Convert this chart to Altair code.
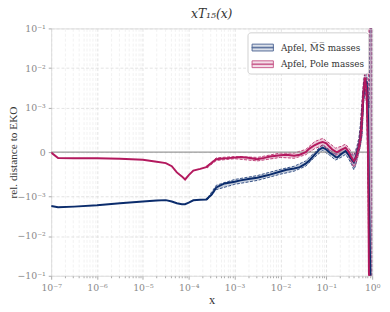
import altair as alt
import pandas as pd

# ---------------- data ----------------
series_names = ["Apfel, M\u0305S\u0305 masses", "Apfel, Pole masses"]
series_colors = ["#0b2c6c", "#b3195e"]
legend_fills = ["#ced5e2", "#f0d1df"]

# log10(x) positions of the central lines
log_x = [-7.0, -6.85, -6.5, -6.0, -5.5, -5.0, -4.7, -4.5, -4.37, -4.26, -4.15, -4.08,
         -4.0, -3.9, -3.75, -3.62, -3.5, -3.4, -3.22, -3.0, -2.87, -2.7, -2.51, -2.35,
         -2.23, -2.0, -1.87, -1.7, -1.58, -1.45, -1.37, -1.25, -1.15, -1.08, -1.0,
         -0.93, -0.87, -0.8, -0.76, -0.68, -0.58, -0.51, -0.45, -0.40, -0.36, -0.33,
         -0.29, -0.26, -0.22, -0.19, -0.155, -0.12, -0.09, -0.07, -0.04]

msbar = [-1.75e-3, -1.89e-3, -1.82e-3, -1.68e-3, -1.5e-3, -1.35e-3, -1.28e-3, -1.25e-3,
         -1.35e-3, -1.5e-3, -1.58e-3, -1.58e-3, -1.45e-3, -1.26e-3, -1.22e-3, -1.2e-3,
         -9.6e-4, -8.0e-4, -7.1e-4, -6.7e-4, -6.4e-4, -6.1e-4, -5.8e-4, -5.4e-4, -5.1e-4,
         -4.4e-4, -4.0e-4, -3.7e-4, -3.4e-4, -2.6e-4, -1.9e-4, -5e-5, 6e-5, 1.0e-4, 6e-5,
         -1e-5, -5e-5, -1.1e-4, -1.2e-4, -5e-5, 2.5e-5, -7e-5, -1.6e-4, -2.3e-4, -1.2e-4,
         0.0, 1.5e-4, 3.2e-4, 8e-4, 2.2e-3, 5.3e-3, 4.0e-3, 8e-4, -1e-3, -0.3]

pole = [-1e-5, -1.36e-4, -1.38e-4, -1.38e-4, -1.5e-4, -1.75e-4, -2.2e-4, -2.5e-4,
        -3.2e-4, -4.6e-4, -5.5e-4, -6.2e-4, -5.2e-4, -4.2e-4, -3.8e-4, -3.4e-4, -2.4e-4,
        -1.6e-4, -1.42e-4, -1.25e-4, -1.13e-4, -1.3e-4, -1.6e-4, -1.3e-4, -1.0e-4, -7e-5,
        -6e-5, -8e-5, -6e-5, 0.0, 8e-5, 1.6e-4, 2.1e-4, 2.3e-4, 2.0e-4, 1.2e-4, 6e-5,
        1e-5, 0.0, 5e-5, 1.0e-4, 0.0, -1.2e-4, -2.0e-4, -1.4e-4, -5e-5, 1.2e-4, 2.9e-4,
        8e-4, 2.5e-3, 5.8e-3, 2.5e-3, 0.0, -0.3, -0.3]

# uncertainty bands
band_log_x = [-3.6, -3.4, -3.0, -2.5, -2.0, -1.7, -1.45, -1.25, -1.08, -0.93, -0.8,
              -0.68, -0.58, -0.51, -0.45, -0.40, -0.36, -0.33, -0.29, -0.26, -0.22,
              -0.19, -0.155, -0.12, -0.09, -0.07, -0.05, 0.0]
ms_lo = [-1.25e-3, -8.5e-4, -7.3e-4, -6.4e-4, -5.0e-4, -4.3e-4, -3.2e-4, -1.1e-4, 4e-5,
         -7e-5, -1.8e-4, -1.2e-4, -5e-5, -1.6e-4, -2.8e-4, -4.0e-4, -3.0e-4, -1.4e-4, 0.0,
         1.3e-4, 4e-4, 1.2e-3, 3e-3, 1.5e-3, -5e-4, -3e-3, -0.3, -0.3]
ms_hi = [-1.15e-3, -7.5e-4, -6.2e-4, -5.3e-4, -3.9e-4, -3.2e-4, -2.0e-4, 0.0, 1.7e-4,
         5e-5, -4e-5, 3e-5, 1.1e-4, 2e-5, -5e-5, -8e-5, 4e-5, 1.4e-4, 3.2e-4, 6e-4,
         1.5e-3, 4e-3, 9e-3, 7e-3, 3e-3, 1e-3, 0.3, 0.3]
pole_lo = [-3.6e-4, -1.9e-4, -1.5e-4, -2.0e-4, -1.2e-4, -1.4e-4, -6e-5, 8e-5, 1.5e-4,
           4e-5, -7e-5, -3e-5, 2e-5, -9e-5, -2.4e-4, -3.4e-4, -2.8e-4, -1.8e-4, -2e-5,
           1.2e-4, 4e-4, 1.3e-3, 3.5e-3, 1e-3, -1e-3, -0.3, -0.3, -0.3]
pole_hi = [-3.2e-4, -1.3e-4, -1.0e-4, -1.2e-4, -2e-5, -2e-5, 6e-5, 2.4e-4, 3.1e-4, 2e-4,
           9e-5, 1.3e-4, 1.8e-4, 9e-5, 0.0, -6e-5, 0.0, 8e-5, 2.6e-4, 5e-4, 1.6e-3,
           4.5e-3, 9e-3, 5e-3, 1e-3, 0.3, 0.3, 0.3]

y_tick_values = [-0.1, -0.01, -0.001, 0.0, 0.001, 0.01, 0.1]
y_tick_labels = ["\u221210\u207b\u00b9", "\u221210\u207b\u00b2", "\u221210\u207b\u00b3", "0",
                 "10\u207b\u00b3", "10\u207b\u00b2", "10\u207b\u00b9"]
x_exponents = [-7, -6, -5, -4, -3, -2, -1, 0]
x_tick_labels = ["10\u207b\u2077", "10\u207b\u2076", "10\u207b\u2075", "10\u207b\u2074",
                 "10\u207b\u00b3", "10\u207b\u00b2", "10\u207b\u00b9", "10\u2070"]

# ---------------- symlog (matplotlib-style, linthresh 1e-3) ----------------
LT = 1e-3
LS = 1.0 / (1.0 - 0.1)


def symlog(v):
    import math
    if abs(v) <= LT:
        return v / LT * LS
    return (1 if v > 0 else -1) * (LS + math.log10(abs(v) / LT))


def symlog_expr(f):
    return (f"abs(datum.{f}) <= {LT} ? datum.{f} / {LT} * {LS} : "
            f"(datum.{f} > 0 ? 1 : -1) * ({LS} + log(abs(datum.{f}) / {LT}) / LN10)")


ydom = [symlog(-0.1), symlog(0.1)]
y_tick_pos = [symlog(v) for v in y_tick_values]
mids = [(a + b) / 2 for a, b in zip(y_tick_pos[:-1], y_tick_pos[1:])]
ylab = f"'{y_tick_labels[-1]}'"
for m, lab in reversed(list(zip(mids, y_tick_labels[:-1]))):
    ylab = f"datum.value < {m} ? '{lab}' : ({ylab})"

x_major = [10.0 ** e for e in x_exponents]
x_minor = [k * 10.0 ** e for e in x_exponents[:-1] for k in range(2, 10)]
x_ticks = sorted(x_major + x_minor)
major_test = "abs(log(datum.value)/LN10 - round(log(datum.value)/LN10)) < 0.001"
arr = "[" + ",".join(f"'{t}'" for t in x_tick_labels) + "]"
xlab = f"{major_test} ? {arr}[round(log(datum.value)/LN10) - ({x_exponents[0]})] : ''"

# ---------------- tables ----------------
lines = pd.DataFrame({
    "x": [10.0 ** l for l in log_x] * 2,
    "v": msbar + pole,
    "series": [series_names[0]] * len(log_x) + [series_names[1]] * len(log_x),
})
bands = pd.DataFrame({
    "x": [10.0 ** l for l in band_log_x] * 2,
    "lo": ms_lo + pole_lo,
    "hi": ms_hi + pole_hi,
    "series": [series_names[0]] * len(band_log_x) + [series_names[1]] * len(band_log_x),
})
zero = pd.DataFrame({"v": [0.0]})

FONT = "Liberation Serif"
TFONT = "DejaVu Serif"
GRAY = "#8a8a8a"

xscale = alt.Scale(type="log", domain=[1e-7, 1])
yscale = alt.Scale(domain=ydom, nice=False, zero=False, clamp=True)
stroke_scale = alt.Scale(domain=series_names, range=series_colors)
fill_scale = alt.Scale(domain=series_names, range=legend_fills)
color_scale = alt.Scale(domain=series_names, range=series_colors)

x_axis = alt.Axis(
    values=x_ticks, labelExpr=xlab, title="x", grid=True,
    gridColor={"condition": {"test": major_test, "value": "#dcdcdc"}, "value": "#efefef"},
    gridDash=[3, 2], gridWidth=0.8,
    tickSize={"condition": {"test": major_test, "value": 3.5}, "value": 2},
    tickColor="#aaaaaa", domain=False, labelFlush=False, labelOverlap=False,
    labelFont=TFONT, labelFontSize=9.5, labelColor=GRAY, labelPadding=3,
    titleFont=FONT, titleFontSize=12.5, titleFontWeight="normal", titleColor="#333333",
    titlePadding=2)

y_axis = alt.Axis(values=y_tick_pos, labelExpr=ylab, title="rel. distance to EKO",
                  grid=True, gridColor="#dcdcdc", gridDash=[3, 2], gridWidth=0.8,
                  tickSize=3, tickColor="#aaaaaa", domain=False, labelFont=TFONT,
                  labelFontSize=9.5, labelColor=GRAY, labelPadding=3, titleFont=FONT,
                  titleFontSize=11.5, titleFontWeight="normal", titleColor="#333333",
                  titleX=-33, titleBaseline="bottom")

legend_props = dict(
    title=None, orient="top-right", offset=4, padding=4, fillColor="white",
    strokeColor="#d0d0d0", cornerRadius=3, labelFont=TFONT, labelFontSize=9,
    labelColor="#333333", symbolType="M-1,-0.32H1V0.32H-1Z M-1,-0.03H1V0.03H-1Z",
    symbolSize=470, symbolStrokeWidth=1, rowPadding=-7, labelOffset=7)

# legend-only layer (no rows drawn), first so that it defines axes and legend
leg = alt.Chart(lines).transform_filter("false").mark_point(
    filled=True, strokeWidth=1).encode(
    x=alt.X("x:Q", scale=xscale, axis=x_axis),
    y=alt.Y("v:Q", scale=yscale, axis=y_axis),
    fill=alt.Fill("series:N", scale=fill_scale, legend=alt.Legend(**legend_props)),
    stroke=alt.Stroke("series:N", scale=stroke_scale, legend=alt.Legend(**legend_props)),
)

band = alt.Chart(bands).transform_calculate(
    ylo=symlog_expr("lo"), yhi=symlog_expr("hi")
).mark_area(fillOpacity=0.22, strokeDash=[3, 1.5], strokeWidth=0.8, clip=True).encode(
    x=alt.X("x:Q", scale=xscale),
    y=alt.Y("ylo:Q", scale=yscale),
    y2="yhi:Q",
    color=alt.Color("series:N", scale=color_scale, legend=None),
    stroke=alt.Stroke("series:N", scale=stroke_scale),
)

zline = alt.Chart(zero).transform_calculate(yz=symlog_expr("v")).mark_rule(
    color="#9a9a9a", strokeWidth=1.2).encode(y=alt.Y("yz:Q", scale=yscale))

line = alt.Chart(lines).transform_calculate(yv=symlog_expr("v")).mark_line(
    strokeWidth=2, clip=True).encode(
    x=alt.X("x:Q", scale=xscale),
    y=alt.Y("yv:Q", scale=yscale),
    stroke=alt.Stroke("series:N", scale=stroke_scale),
    detail="series:N",
)

chart = alt.layer(leg, band, zline, line).properties(
    width=327, height=252,
    title=alt.TitleParams("xT\u2081\u2085(x)", font=TFONT, fontSize=12.5, fontStyle="italic",
                          fontWeight="normal", color="#333333", offset=3),
    autosize=alt.AutoSizeParams(type="none"),
    padding={"left": 44, "top": 18, "right": 10, "bottom": 29},
).configure_view(stroke="#c4c4c4", strokeWidth=1).configure(background="white")

chart.save("out.html", embed_options={"renderer": "svg", "actions": False})
